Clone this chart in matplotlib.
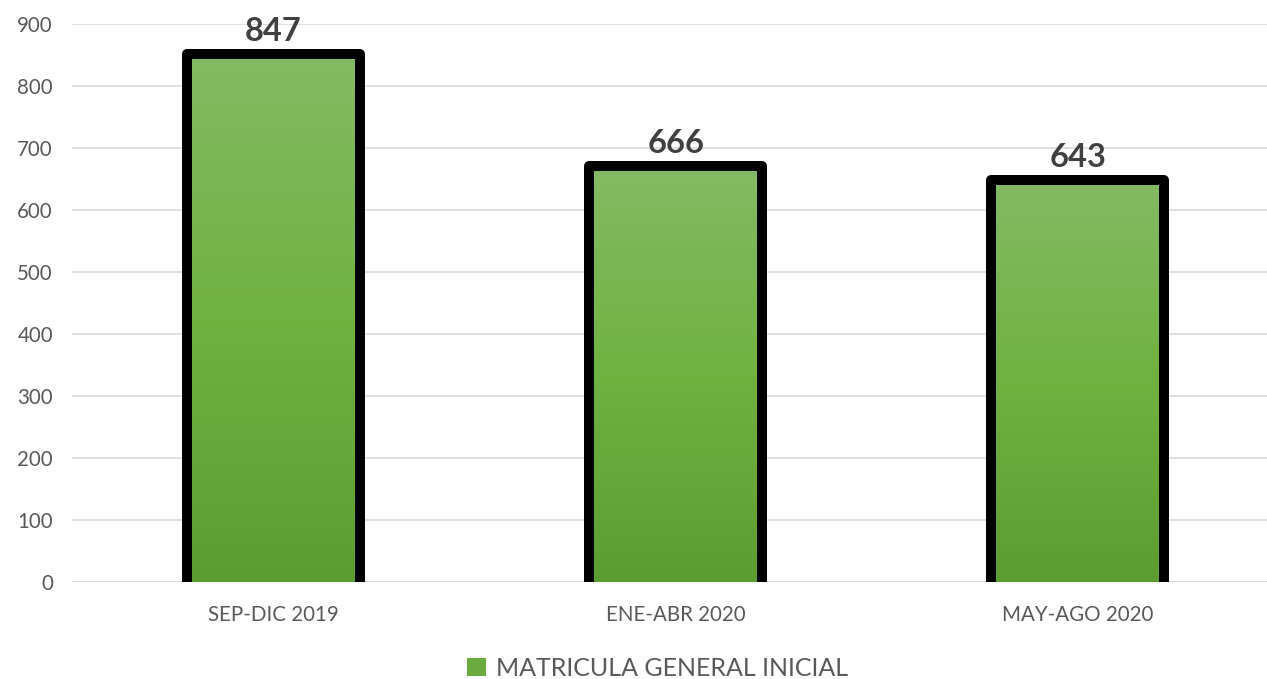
import numpy as np
import matplotlib
matplotlib.use("Agg")
import matplotlib.pyplot as plt
import matplotlib.transforms as mtransforms
from matplotlib.patches import Patch
from matplotlib.colors import LinearSegmentedColormap

categories = ["SEP-DIC 2019", "ENE-ABR 2020", "MAY-AGO 2020"]
values = [847, 666, 643]
series_name = "MATRICULA GENERAL INICIAL"
yticks = [0, 100, 200, 300, 400, 500, 600, 700, 800, 900]

plt.rcParams['font.family'] = ['Lato', 'DejaVu Sans']

W, H = 1267, 679
fig = plt.figure(figsize=(W / 100, H / 100), dpi=100)
left, right = 72.4 / W, 1279 / W
top, bottom = 1 - 24 / H, 1 - 581.7 / H
ax = fig.add_axes([left, bottom, right - left, top - bottom])

x = np.arange(len(categories))
fill_w = 0.405
bars = ax.bar(x, values, width=fill_w, color='none', linewidth=0, zorder=2)

cmap = LinearSegmentedColormap.from_list('g', ['#5c9d32', '#6fb240', '#84ba63'])
grad = np.linspace(0, 1, 256).reshape(-1, 1)
for b in bars:
    x0, y0 = b.get_x(), b.get_y()
    w, h = b.get_width(), b.get_height()
    im = ax.imshow(grad, cmap=cmap, aspect='auto', origin='lower',
                   extent=[x0, x0 + w, y0, y0 + h], zorder=2)
    im.set_clip_path(b)

# outline drawn just outside the filled area (as in the original)
up = mtransforms.offset_copy(ax.transData, fig=fig, x=0, y=3, units='dots')
half = fill_w / 2 + 0.0124
for xi, v in zip(x, values):
    ax.plot([xi - half, xi - half, xi + half, xi + half], [0, v, v, 0],
            color='black', lw=7.2, solid_joinstyle='round',
            solid_capstyle='projecting', transform=up, zorder=3)

for xi, v in zip(x, values):
    ax.annotate(str(v), (xi, v), xytext=(0, 8), textcoords='offset points',
                ha='center', va='bottom', fontsize=23.5, fontweight='bold',
                color='#404040', zorder=4)

ax.set_xlim(-0.5, len(categories) - 0.5)
ax.set_ylim(0, 900)
ax.set_yticks(yticks)
ax.set_xticks(x)
ax.set_xticklabels(categories)
ax.tick_params(axis='both', length=0, labelsize=14.8, colors='#595959')
ax.tick_params(axis='y', pad=14)
ax.tick_params(axis='x', pad=17)
ax.grid(axis='y', color='#d9d9d9', linewidth=1.2, zorder=0)
ax.set_axisbelow(True)
for s in ax.spines.values():
    s.set_visible(False)
ax.axhline(0, color='#d9d9d9', linewidth=2, zorder=1)

handle = Patch(facecolor='#6aaa3e', edgecolor='none')
fig.legend([handle], [series_name], loc='center', bbox_to_anchor=(0.519, 1 - 668 / H),
           frameon=False, fontsize=18, labelcolor='#595959',
           handlelength=0.75, handleheight=0.75, handletextpad=0.4)

fig.savefig('out.png', dpi=100)
